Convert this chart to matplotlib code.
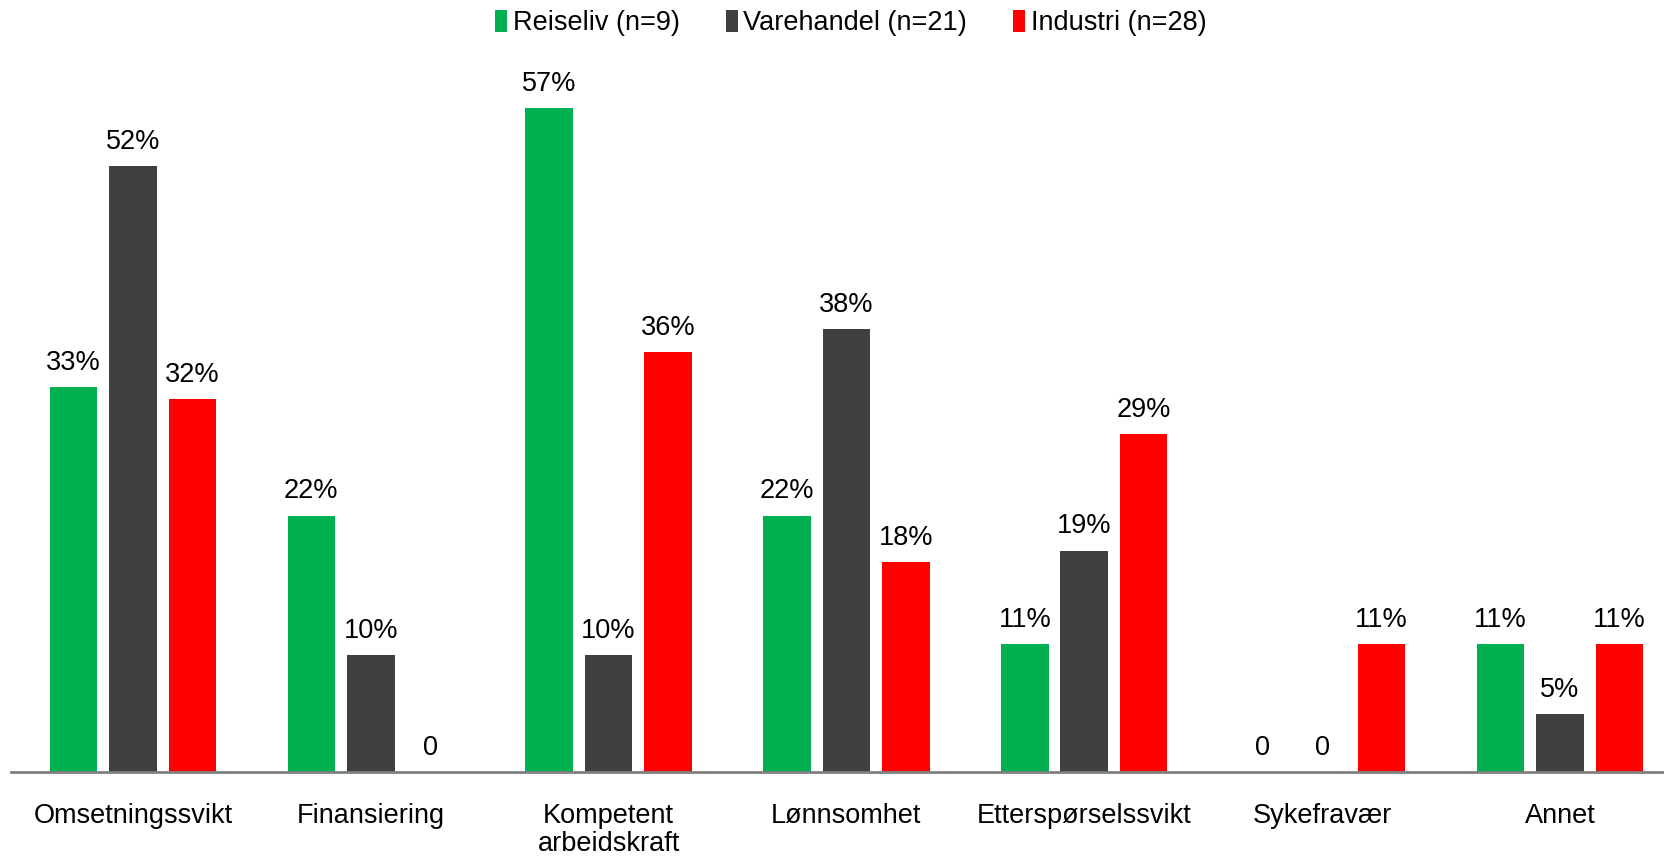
import matplotlib.pyplot as plt
import numpy as np
from matplotlib.patches import Patch

# --- Data ---
categories = ['Omsetningssvikt', 'Finansiering', 'Kompetent\narbeidskraft', 'Lønnsomhet',
              'Etterspørselssvikt', 'Sykefravær', 'Annet']
series_names = ['Reiseliv (n=9)', 'Varehandel (n=21)', 'Industri (n=28)']
reiseliv = [33, 22, 57, 22, 11, 0, 11]
varehandel = [52, 10, 10, 38, 19, 0, 5]
industri = [32, 0, 36, 18, 29, 11, 11]
colors = ['#00B050', '#404040', '#FF0000']

plt.rcParams['font.family'] = ['Liberation Sans', 'DejaVu Sans']

fig = plt.figure(figsize=(16.65, 8.56), dpi=100)
ax = fig.add_axes([0.0066, 0.0981, 0.9934, 0.8306])

x = np.arange(len(categories))
offsets = [-0.25, 0.0, 0.25]
width = 0.2

for vals, off, col in zip([reiseliv, varehandel, industri], offsets, colors):
    ax.bar(x + off, vals, width=width, color=col)
    for xi, v in zip(x + off, vals):
        label = f'{v}%' if v != 0 else '0'
        ax.annotate(label, (xi, v), xytext=(0, 8), textcoords='offset points',
                    ha='center', va='bottom', fontsize=19.5, color='black')

ax.set_xlim(-0.513, 6.442)
ax.set_ylim(0, 61)
ax.set_xticks(x)
ax.set_xticklabels(categories, fontsize=19.5, linespacing=1.1)
ax.tick_params(axis='x', length=0, pad=22)
ax.set_yticks([])
for side in ['top', 'right', 'left']:
    ax.spines[side].set_visible(False)
ax.spines['bottom'].set_color('#808080')
ax.spines['bottom'].set_linewidth(2)

handles = [Patch(facecolor=c, edgecolor='none') for c in colors]
fig.legend(handles, series_names, loc='center', bbox_to_anchor=(0.511, 0.973),
           ncol=3, frameon=False, fontsize=19.5, handlelength=0.45, handleheight=0.85,
           handletextpad=0.2, columnspacing=1.7)

fig.savefig('out.png', dpi=100)
